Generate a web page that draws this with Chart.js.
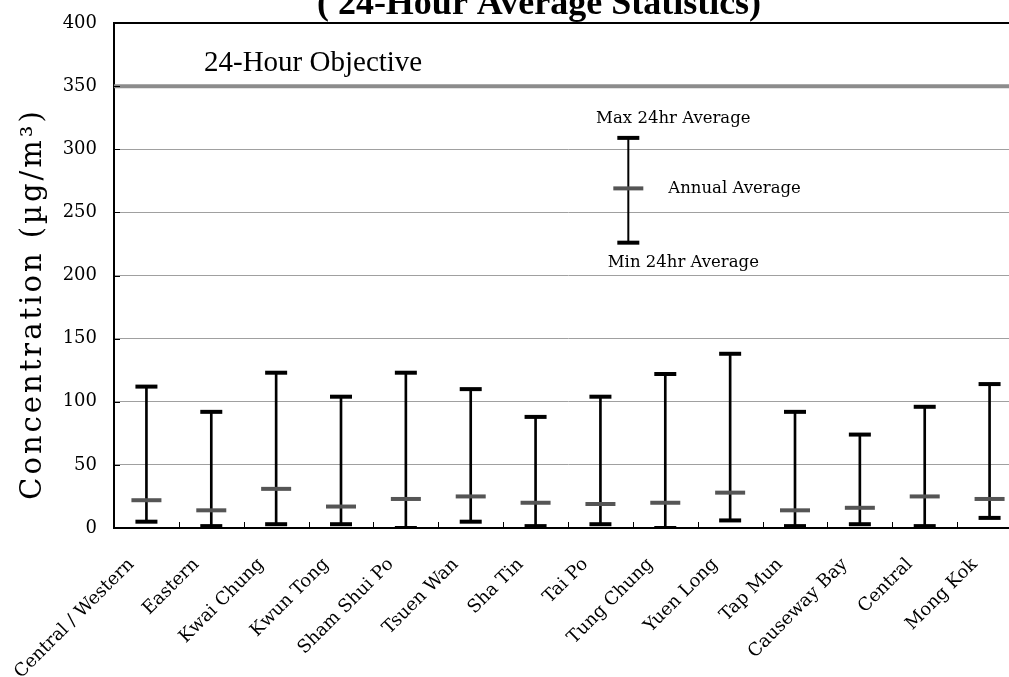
<!DOCTYPE html>
<html>
<head>
<meta charset="utf-8">
<script src="https://cdn.jsdelivr.net/npm/chart.js@4"></script>
<style>
  html, body { margin: 0; padding: 0; background: #fff; overflow: hidden; }
  #wrap { width: 1041px; height: 677px; }
  canvas { display: block; }
</style>
</head>
<body>
<div id="wrap"><canvas id="myChart" width="1041" height="677" style="width:1041px;height:677px"></canvas></div>
<script>
const stations = ['Central / Western', 'Eastern', 'Kwai Chung', 'Kwun Tong', 'Sham Shui Po', 'Tsuen Wan',
  'Sha Tin', 'Tai Po', 'Tung Chung', 'Yuen Long', 'Tap Mun', 'Causeway Bay', 'Central', 'Mong Kok'];
const maxVals = [112, 92, 123, 104, 123, 110, 88, 104, 122, 138, 92, 74, 96, 114];
const meanVals = [22, 14, 31, 17, 23, 25, 20, 19, 20, 28, 14, 16, 25, 23];
const minVals = [5, 1.5, 3, 3, 0, 5, 1.5, 3, 0, 6, 1.5, 3, 1.5, 8];
const yTicks = [0, 50, 100, 150, 200, 250, 300, 350, 400];
const objective = 350;
const keyVals = [226, 269, 309]; // min, annual, max for the key whisker

const serif = '"Liberation Serif", "Times New Roman", serif';
const wide = '"DejaVu Serif", serif';
const ctx = document.getElementById('myChart');

// extra drawing: objective line, key, titles, borders
const extras = {
  id: 'extras',
  beforeDatasetsDraw(chart) {
    const c = chart.ctx, a = chart.chartArea;
    const xs = chart.scales.x, ys = chart.scales.y;
    c.save();
    // objective line
    const oy = ys.getPixelForValue(objective);
    c.strokeStyle = '#8c8c8c';
    c.lineWidth = 4;
    c.beginPath(); c.moveTo(a.left, oy); c.lineTo(a.right, oy); c.stroke();
    // inner tick marks on y axis
    c.strokeStyle = '#000';
    c.lineWidth = 1;
    yTicks.forEach(v => {
      const y = Math.round(ys.getPixelForValue(v)) + 0.5;
      c.beginPath(); c.moveTo(a.left, y); c.lineTo(a.left + 6, y); c.stroke();
    });
    // inner tick marks on x axis at category boundaries
    for (let i = 0; i <= stations.length; i++) {
      const x = Math.round(xs.getPixelForValue(i - 0.5)) + 0.5;
      c.beginPath(); c.moveTo(x, a.bottom); c.lineTo(x, a.bottom - 6); c.stroke();
    }
    c.restore();
  },
  afterDraw(chart) {
    const c = chart.ctx, a = chart.chartArea;
    const xs = chart.scales.x, ys = chart.scales.y;
    c.save();
    // top border
    c.strokeStyle = '#000';
    c.lineWidth = 2;
    c.beginPath(); c.moveTo(a.left - 1, a.top); c.lineTo(a.right, a.top); c.stroke();

    // chart title (cut off at top)
    c.fillStyle = '#000';
    c.font = 'bold 36px ' + serif;
    c.textAlign = 'center';
    c.textBaseline = 'alphabetic';
    c.fillText('( 24-Hour Average Statistics)', 539, 14);

    // objective label
    c.font = '29px ' + serif;
    c.textAlign = 'left';
    c.fillText('24-Hour Objective', 204, ys.getPixelForValue(objective) - 15);

    // y axis title
    c.save();
    c.translate(33, 304);
    c.rotate(-Math.PI / 2);
    c.font = '29px ' + wide;
    c.letterSpacing = '3px';
    c.textAlign = 'center';
    c.textBaseline = 'middle';
    c.fillText('Concentration (\u00b5g/m\u00b3)', 0, 0);
    c.restore();

    // key whisker
    const kx = xs.getPixelForValue(7) + 0.43 * (xs.getPixelForValue(8) - xs.getPixelForValue(7));
    const yMin = ys.getPixelForValue(keyVals[0]);
    const yMean = ys.getPixelForValue(keyVals[1]);
    const yMax = ys.getPixelForValue(keyVals[2]);
    c.lineWidth = 2;
    c.beginPath(); c.moveTo(kx, yMax); c.lineTo(kx, yMin); c.stroke();
    c.lineWidth = 4;
    c.beginPath(); c.moveTo(kx - 11, yMax); c.lineTo(kx + 11, yMax); c.stroke();
    c.beginPath(); c.moveTo(kx - 11, yMin); c.lineTo(kx + 11, yMin); c.stroke();
    c.strokeStyle = '#555';
    c.beginPath(); c.moveTo(kx - 15, yMean); c.lineTo(kx + 15, yMean); c.stroke();

    c.font = '16.5px ' + wide;
    c.textBaseline = 'middle';
    c.textAlign = 'center';
    c.fillText('Max 24hr Average', kx + 45, yMax - 19);
    c.fillText('Min 24hr Average', kx + 55, yMin + 20);
    c.textAlign = 'left';
    c.fillText('Annual Average', kx + 40, yMean);
    c.restore();
  }
};

new Chart(ctx, {
  type: 'bar',
  data: {
    labels: stations,
    datasets: [
      {
        label: 'Range',
        data: stations.map((s, i) => [minVals[i], maxVals[i]]),
        backgroundColor: '#000',
        barThickness: 2,
        order: 3
      },
      {
        type: 'line',
        label: 'Max 24hr Average',
        data: maxVals,
        showLine: false,
        pointStyle: 'line',
        pointRadius: 11,
        pointBorderWidth: 4,
        borderColor: '#000',
        order: 1
      },
      {
        type: 'line',
        label: 'Min 24hr Average',
        data: minVals,
        showLine: false,
        pointStyle: 'line',
        pointRadius: 11,
        pointBorderWidth: 4,
        borderColor: '#000',
        order: 1
      },
      {
        type: 'line',
        label: 'Annual Average',
        data: meanVals,
        showLine: false,
        pointStyle: 'line',
        pointRadius: 15,
        pointBorderWidth: 4,
        borderColor: '#555',
        order: 2
      }
    ]
  },
  options: {
    responsive: false,
    animation: false,
    devicePixelRatio: 1,
    layout: { padding: { top: 23, right: 0, bottom: 0, left: 0 } },
    plugins: {
      legend: { display: false },
      tooltip: { enabled: false },
      title: { display: false }
    },
    scales: {
      x: {
        offset: true,
        grid: { display: false },
        border: { color: '#000', width: 2 },
        ticks: {
          autoSkip: false,
          minRotation: 45,
          maxRotation: 45,
          color: '#000',
          padding: 18,
          labelOffset: -15,
          font: { family: wide, size: 18 }
        },
        afterFit(scale) {
          scale.height = 149;
          scale.paddingLeft = 0;
          scale.paddingRight = 0;
        }
      },
      y: {
        min: 0,
        max: 400,
        afterBuildTicks(scale) { scale.ticks = yTicks.map(v => ({ value: v })); },
        grid: { color: '#a0a0a0', lineWidth: 1, drawTicks: false },
        border: { color: '#000', width: 2 },
        ticks: {
          color: '#000',
          padding: 17,
          font: { family: wide, size: 18 }
        },
        afterFit(scale) {
          scale.width = 114;
          scale.paddingTop = 0;
          scale.paddingBottom = 0;
        }
      }
    }
  },
  plugins: [extras]
});
</script>
</body>
</html>
